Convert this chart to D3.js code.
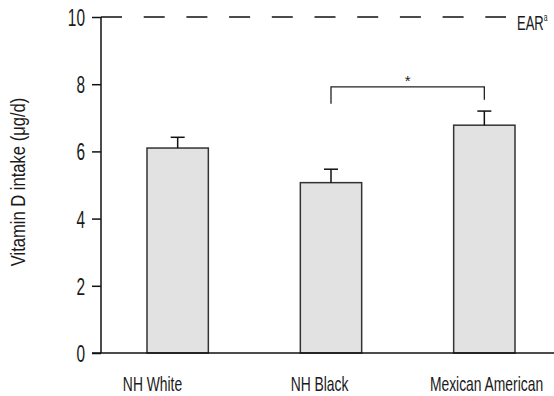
<!DOCTYPE html>
<html><head><meta charset="utf-8">
<script src="https://cdn.jsdelivr.net/npm/d3@7"></script>
<style>body{margin:0;background:#fff}</style>
</head><body>
<svg id="c" width="554" height="396"></svg>
<script>
const categories = ["NH White", "NH Black", "Mexican American"];
const means = [6.1, 5.07, 6.78];
const errUpper = [6.42, 5.47, 7.2];
const yTicks = [0, 2, 4, 6, 8, 10];
const earValue = 10;
const sigPair = ["NH Black", "Mexican American"];
const sigLevels = { top: 7.92, left: 7.42, right: 7.54 };
const yLabel = "Vitamin D intake (\u03bcg/d)";

(function () {
const svg = d3.select("#c");
const FONT = "'Liberation Sans', Arial, sans-serif";
const mL = 101, mR = 561, mT = 17, mB = 353;

const x = d3.scaleBand().domain(categories).range([mL, mR]).paddingInner(0.6).paddingOuter(0.3);
const xLab = d3.scalePoint().domain(categories).range([152.5, 486.5]);
const y = d3.scaleLinear().domain([0, 10]).range([mB, mT]);

function ctext(g, tx, ty, str, size, anchor, sx, rot) {
  return g.append("text")
    .attr("transform", `translate(${tx},${ty})` + (rot ? ` rotate(${rot})` : "") + ` scale(${sx},1)`)
    .attr("text-anchor", anchor)
    .attr("font-family", FONT)
    .attr("font-size", size)
    .attr("fill", "#1a1a1a")
    .text(str);
}

// bars
svg.append("g").selectAll("rect").data(categories).join("rect")
  .attr("x", d => x(d)).attr("width", x.bandwidth())
  .attr("y", (d, i) => y(means[i])).attr("height", (d, i) => y(0) - y(means[i]))
  .attr("fill", "#e2e2e2").attr("stroke", "#333").attr("stroke-width", 1.5);

// error bars
const eg = svg.append("g").attr("stroke", "#111").attr("stroke-width", 1.5);
categories.forEach((c, i) => {
  const cx = x(c) + x.bandwidth() / 2;
  eg.append("line").attr("x1", cx).attr("x2", cx).attr("y1", y(means[i])).attr("y2", y(errUpper[i]));
  eg.append("line").attr("x1", cx - 7).attr("x2", cx + 7).attr("y1", y(errUpper[i])).attr("y2", y(errUpper[i]));
});

// y axis
const yAxis = svg.append("g").attr("transform", `translate(${mL},0)`)
  .call(d3.axisLeft(y).tickValues(yTicks).tickSize(9).tickPadding(6).tickFormat(d3.format("d")));
yAxis.select(".domain").attr("stroke", "#111").attr("stroke-width", 1.5).attr("d", `M0,${mT}V${mB}`);
yAxis.selectAll(".tick line").attr("stroke", "#111").attr("stroke-width", 1.5);
yAxis.selectAll(".tick text").remove();
yAxis.selectAll(".tick").each(function(d) {
  ctext(d3.select(this), -16, 8.5, d, 23, "end", 0.67);
});

// x axis baseline
svg.append("line").attr("x1", mL - 9).attr("x2", 554).attr("y1", y(0)).attr("y2", y(0))
  .attr("stroke", "#111").attr("stroke-width", 1.5);

// category labels
categories.forEach(c => ctext(svg, xLab(c), 391, c, 21, "middle", 0.66));

// y label
ctext(svg, 25, 182, yLabel, 19.5, "middle", 0.85, -90);

// EAR dashed line
svg.append("line").attr("x1", mL).attr("x2", 506).attr("y1", y(earValue)).attr("y2", y(earValue))
  .attr("stroke", "#111").attr("stroke-width", 1.5).attr("stroke-dasharray", "21,21.7");
const ear = ctext(svg, 517, y(earValue) + 13, "EAR", 21, "start", 0.62);
ear.append("tspan").attr("font-size", 11).attr("dy", -9).text("a");

// significance bracket
const bx1 = x(sigPair[0]) + x.bandwidth() / 2, bx2 = x(sigPair[1]) + x.bandwidth() / 2;
svg.append("path")
  .attr("d", `M${bx1},${y(sigLevels.left)}V${y(sigLevels.top)}H${bx2}V${y(sigLevels.right)}`)
  .attr("fill", "none").attr("stroke", "#222").attr("stroke-width", 1.3);
svg.append("text").attr("x", (bx1 + bx2) / 2).attr("y", y(sigLevels.top) - 1)
  .attr("text-anchor", "middle").attr("font-family", FONT).attr("font-size", 15).attr("fill", "#222").text("*");
})();
</script>
</body></html>
